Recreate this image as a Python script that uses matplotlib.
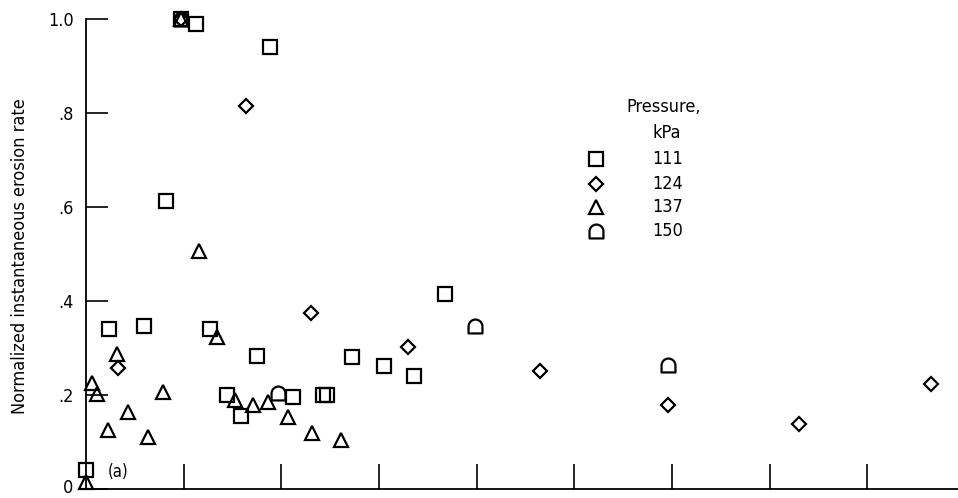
import numpy as np
import matplotlib
matplotlib.use("Agg")
import matplotlib.pyplot as plt
import matplotlib.transforms as mtransforms
from matplotlib.path import Path

plt.rcParams['font.family'] = ['DejaVu Sans']
plt.rcParams['font.stretch'] = 'condensed'

# x in units of one tick spacing (axis has no x labels)
sq_x = [0.0, 0.82, 0.97, 1.13, 1.885, 0.235, 0.594, 1.27, 1.75, 1.44, 1.59, 2.12, 2.43, 2.47, 2.72, 3.05, 3.36, 3.68]
sq_y = [0.04, 0.613, 1.0, 0.99, 0.94, 0.34, 0.347, 0.34, 0.283, 0.2, 0.155, 0.196, 0.2, 0.2, 0.28, 0.262, 0.24, 0.415]

di_x = [0.97, 1.64, 0.33, 2.3, 3.3, 4.65, 5.96, 7.3, 8.65]
di_y = [1.0, 0.815, 0.257, 0.374, 0.302, 0.251, 0.179, 0.138, 0.223]

tr_x = [0.0, 0.06, 0.11, 0.225, 0.32, 0.43, 0.63, 0.79, 0.97, 1.16, 1.34, 1.53, 1.71, 1.86, 2.07, 2.31, 2.61]
tr_y = [0.015, 0.225, 0.202, 0.126, 0.287, 0.164, 0.11, 0.206, 1.0, 0.507, 0.323, 0.19, 0.178, 0.185, 0.153, 0.12, 0.105]

dd_x = [0.97, 1.97, 3.98, 5.96]
dd_y = [1.0, 0.204, 0.347, 0.264]

pressures = ['111', '124', '137', '150']
yticks = [0, 0.2, 0.4, 0.6, 0.8, 1.0]
ytick_labels = ['0', '.2', '.4', '.6', '.8', '1.0']

# "D" shaped marker: flat bottom, round top
arc = Path.arc(0, 180)
verts = np.vstack([[[-1, -1], [1, -1], [1, 0]], arc.vertices, [[-1, -1]]])
codes = [Path.MOVETO, Path.LINETO, Path.LINETO] + [Path.LINETO] + list(arc.codes[1:]) + [Path.CLOSEPOLY]
dome = Path(verts, codes)

fig = plt.figure(figsize=(9.58, 4.98), dpi=100)
ax = fig.add_axes([86/958, 9/498, 872/958, 470/498])

style = dict(linestyle='none', color='black', markerfacecolor='none',
             markeredgewidth=1.6, clip_on=False)
markers = [('s', 10), ('D', 7), ('^', 10), (dome, 10)]
series = [(sq_x, sq_y), (di_x, di_y), (tr_x, tr_y), (dd_x, dd_y)]
for (m, ms), (xs, ys) in zip(markers, series):
    ax.plot(xs, ys, marker=m, markersize=ms, **style)

ax.set_xlim(0, 8.93)
ax.set_ylim(0, 1.0)
ax.set_xticks(range(1, 9))
ax.set_xticklabels([])
ax.set_yticks(yticks)
ax.set_yticklabels(ytick_labels, fontsize=13)
ax.tick_params(axis='x', direction='in', length=18, width=1.2)
ax.tick_params(axis='y', direction='in', length=16, width=1.2, pad=9)
for s in ['top', 'right']:
    ax.spines[s].set_visible(False)
for s in ['left', 'bottom']:
    ax.spines[s].set_linewidth(1.3)

# nudge the "0" label up so it stays inside the picture
lab0 = ax.get_yticklabels()[0]
lab0.set_transform(lab0.get_transform() + mtransforms.ScaledTranslation(0, 3/100, fig.dpi_scale_trans))

fig.text(20/958, 1 - 256/498, 'Normalized instantaneous erosion rate',
         rotation=90, ha='center', va='center', fontsize=13)

ax.text(0.225, 0.036, '(a)', ha='left', va='center', fontsize=12)

# legend
ax.text(0.662, 0.813, 'Pressure,', transform=ax.transAxes, ha='center', va='center', fontsize=13)
ax.text(0.666, 0.757, 'kPa', transform=ax.transAxes, ha='center', va='center', fontsize=13)
rows = [0.702, 0.649, 0.600, 0.549]
for (m, ms), lab, ry in zip(markers, pressures, rows):
    ax.plot([0.585], [ry], marker=m, markersize=ms, transform=ax.transAxes, **style)
    ax.text(0.649, ry, lab, transform=ax.transAxes, ha='left', va='center', fontsize=13)

fig.savefig('out.png', dpi=100)
